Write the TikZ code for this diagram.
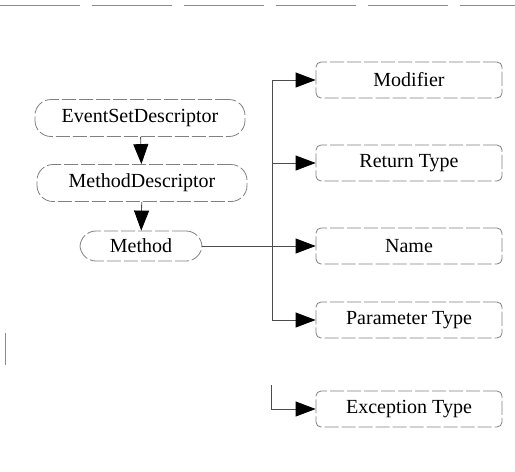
\documentclass[tikz,border=0pt]{standalone}
\usepackage{fontspec}
\setmainfont{Liberation Serif}
\usetikzlibrary{arrows.meta,positioning}

\begin{document}
\begin{tikzpicture}[x=0.5pt,y=-0.5pt,
    bean/.style={draw=black!50,dash pattern=on 7pt off 1.5pt,rounded corners=8pt,
      minimum width=105pt,minimum height=18.5pt,inner sep=0pt},
    slot/.style={draw=black!50,dash pattern=on 7pt off 1.5pt,rounded corners=2.5pt,
      minimum width=93pt,minimum height=18pt,inner sep=0pt},
    wire/.style={draw=black!70,line width=0.4pt},
    link/.style={wire,-{Triangle[length=10pt,width=7.5pt,color=black]}}]
    \useasboundingbox (0,0) rectangle (515,472);
    \draw[black!45,dash pattern=on 40pt off 6pt] (0,5) -- (515,5);
    \draw[black!45] (5,333) -- (5,365);

    \node[bean] (esd) at (140,118) {EventSetDescriptor};
    \node[bean] (md) at (142,183) {MethodDescriptor};
    \node[bean,minimum width=61pt,minimum height=15pt] (meth) at (141,246) {Method};

    \node[slot] (mod) at (409,80) {Modifier};
    \node[slot] (ret) at (409,163) {Return Type};
    \node[slot] (nam) at (409,246) {Name};
    \node[slot] (par) at (409,320) {Parameter Type};
    \node[slot] (exc) at (409,409) {Exception Type};

    \coordinate (spine) at (272,0);
    \coordinate (stub) at (271,385);

    \draw[link] (esd) -- (md);
    \draw[link] (md) -- (meth);
    \draw[wire] (spine |- mod.west) -- (spine |- par.west);
    \draw[wire] (meth.east) -- (spine |- meth.east);
    \foreach \n in {mod,ret,nam,par}
    \draw[link] (spine |- \n.west) -- (\n.west);
    \draw[link] (stub) |- (exc.west);
  \end{tikzpicture}
\end{document}
